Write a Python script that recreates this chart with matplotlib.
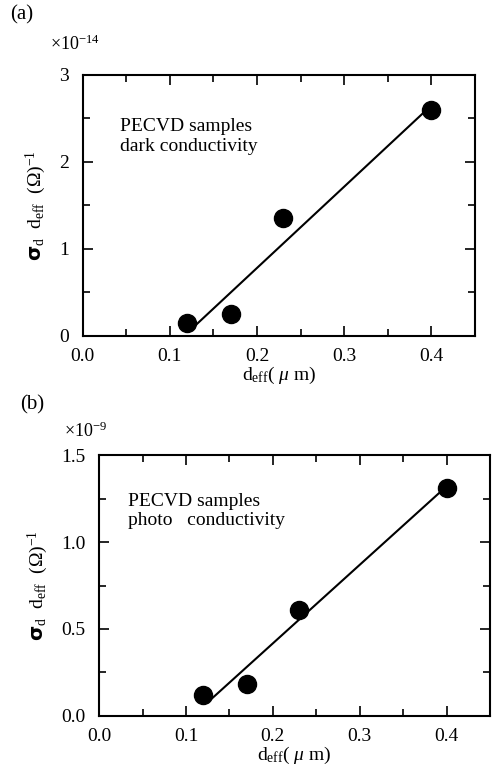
import matplotlib.pyplot as plt
from matplotlib.ticker import MultipleLocator

plt.rcParams['font.family'] = ['Liberation Serif', 'DejaVu Serif']
plt.rcParams['mathtext.fontset'] = 'custom'
plt.rcParams['mathtext.rm'] = 'Liberation Serif'
plt.rcParams['mathtext.it'] = 'Liberation Serif:italic'

# dark conductivity (x1e-14)
d_eff_a = [0.12, 0.17, 0.23, 0.40]
sigma_a = [0.15, 0.25, 1.35, 2.60]
fit_x_a = [0.125, 0.395]
fit_y_a = [0.08, 2.60]

# photo conductivity (x1e-9)
d_eff_b = [0.12, 0.17, 0.23, 0.40]
sigma_b = [0.12, 0.18, 0.61, 1.31]
fit_x_b = [0.13, 0.395]
fit_y_b = [0.10, 1.30]

fig = plt.figure(figsize=(4.96, 7.72), dpi=100)
ax1 = fig.add_axes([0.167, 0.565, 0.790, 0.338])
ax2 = fig.add_axes([0.200, 0.073, 0.788, 0.337])

ylab = r'$\mathbf{\sigma}_{\rm d}$  d$_{\rm eff}$  ($\mathit{\Omega}$)$^{-1}$'
xlab = r'd$_{\rm eff}$( $\mu$ m)'

for ax in (ax1, ax2):
    ax.set_xlim(0, 0.45)
    ax.xaxis.set_minor_locator(MultipleLocator(0.05))
    ax.tick_params(which='both', direction='in', top=True, right=True, labelsize=14)
    ax.tick_params(which='major', length=7, width=1.2)
    ax.tick_params(which='minor', length=5, width=1.2)
    ax.tick_params(axis='x', pad=9)
    ax.tick_params(axis='y', pad=10)
    for s in ax.spines.values():
        s.set_linewidth(1.5)
    ax.set_xticks([0.0, 0.1, 0.2, 0.3, 0.4])
    ax.set_xticklabels(['0.0', '0.1', '0.2', '0.3', '0.4'])
    ax.set_xlabel(xlab, fontsize=14, labelpad=0)
    ax.set_ylabel(ylab, fontsize=14, labelpad=8)

ax1.plot(fit_x_a, fit_y_a, c='k', lw=1.5)
ax1.plot(d_eff_a, sigma_a, 'o', c='k', ms=13)
ax1.set_ylim(0, 3)
ax1.yaxis.set_major_locator(MultipleLocator(1))
ax1.yaxis.set_minor_locator(MultipleLocator(0.5))
ax1.text(0.043, 2.29, 'PECVD samples\ndark conductivity', fontsize=14,
         linespacing=1.2, va='center')

ax2.plot(fit_x_b, fit_y_b, c='k', lw=1.5)
ax2.plot(d_eff_b, sigma_b, 'o', c='k', ms=13)
ax2.set_ylim(0, 1.5)
ax2.yaxis.set_minor_locator(MultipleLocator(0.25))
ax2.set_yticks([0.0, 0.5, 1.0, 1.5])
ax2.set_yticklabels(['0.0', '0.5', '1.0', '1.5'])
ax2.text(0.033, 1.18, 'PECVD samples\nphoto   conductivity', fontsize=14,
         linespacing=1.2, va='center')

fig.text(0.02, 0.975, '(a)', fontsize=15)
fig.text(0.10, 0.935, r'$\times$10$^{-14}$', fontsize=13)
fig.text(0.04, 0.47, '(b)', fontsize=15)
fig.text(0.13, 0.434, r'$\times$10$^{-9}$', fontsize=13)

fig.savefig('out.png', dpi=100)
